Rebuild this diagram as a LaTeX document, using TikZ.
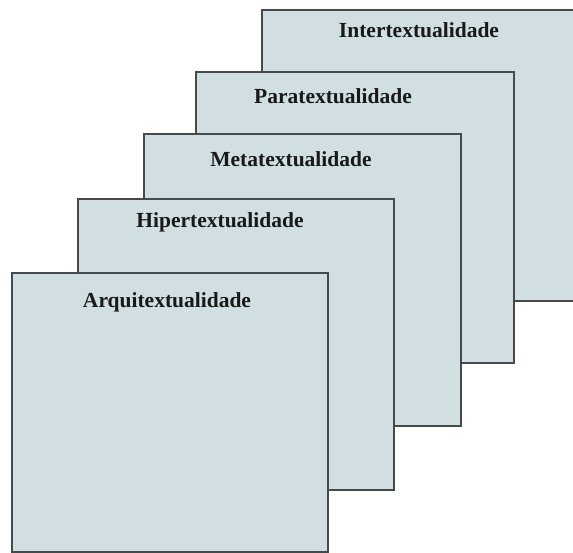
\documentclass[tikz,border=0pt]{standalone}
\usepackage{fontspec}
\setmainfont{Liberation Serif}
\definecolor{cardfill}{RGB}{209,223,226}
\definecolor{cardline}{RGB}{70,74,76}
\tikzset{
  card/.style={draw=cardline, fill=cardfill, line width=1.6pt, anchor=north west,
    inner sep=0pt, outer sep=0pt},
  cardtitle/.style={anchor=base, inner sep=0pt, font=\fontsize{21.5}{24}\selectfont\bfseries, text=black!90}
}
\begin{document}
\begin{tikzpicture}[x=1pt,y=-1pt]
  \useasboundingbox (0,0) rectangle (573,552);
  \clip (0,0) rectangle (573,552);
  % stacked cards, back to front
  \node[card, minimum width=338pt, minimum height=291pt] (inter) at (262,10) {};
  \node[cardtitle] (intert) at (419,37) {Intertextualidade};
  \node[card, minimum width=318pt, minimum height=291pt] (para) at (196,72) {};
  \node[cardtitle] (parat) at (333,103) {Paratextualidade};
  \node[card, minimum width=317pt, minimum height=292pt] (meta) at (144,134) {};
  \node[cardtitle] (metat) at (291,166) {Metatextualidade};
  \node[card, minimum width=316pt, minimum height=291pt] (hiper) at (78,199) {};
  \node[cardtitle] (hipert) at (220,227) {Hipertextualidade};
  \node[card, minimum width=316pt, minimum height=279pt] (arqui) at (12,273) {};
  \node[cardtitle] (arquit) at (167,307) {Arquitextualidade};
\end{tikzpicture}
\end{document}
